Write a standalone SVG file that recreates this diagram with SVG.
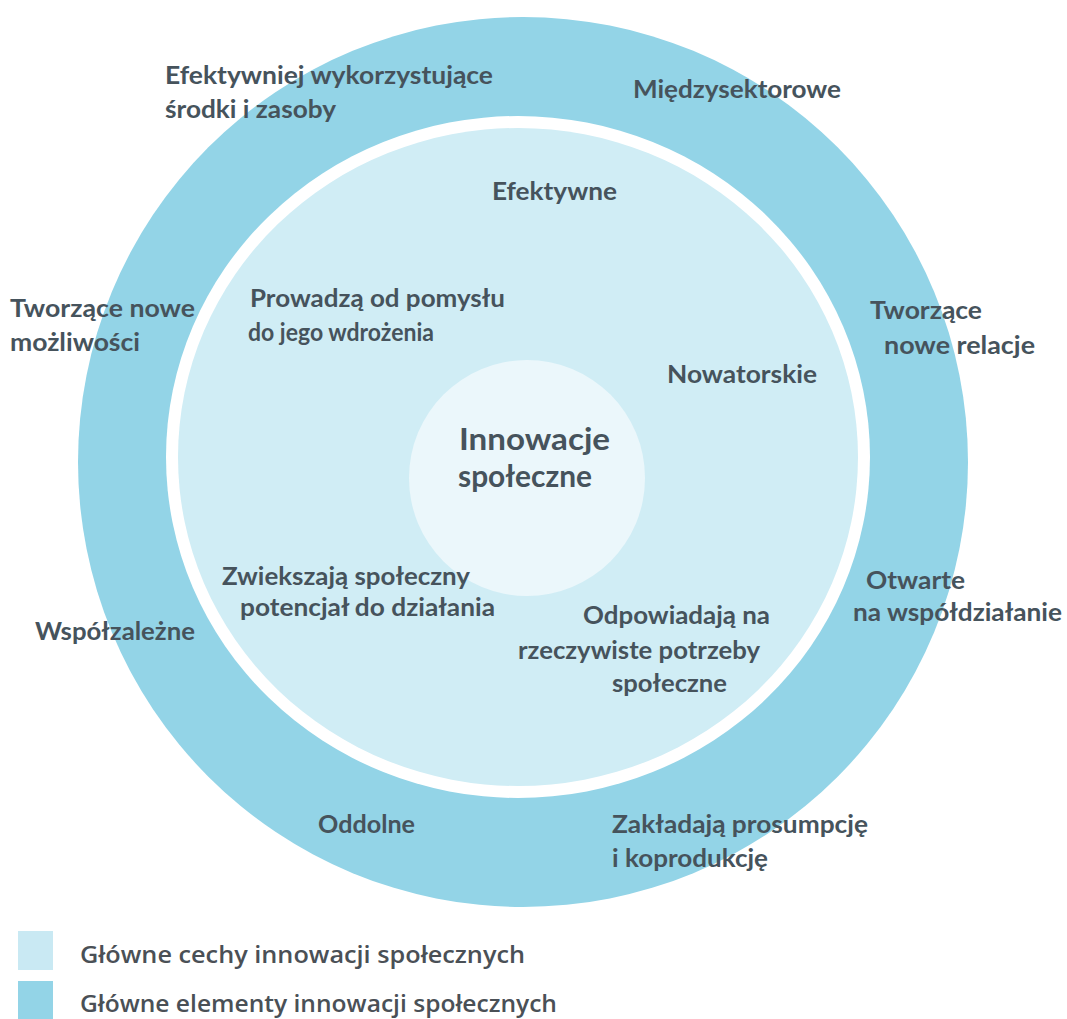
<svg xmlns="http://www.w3.org/2000/svg" width="1067" height="1019" viewBox="0 0 1067 1019">
<style>
.t{font-family:Lato,"Open Sans","Liberation Sans",sans-serif;font-weight:700;font-size:25px;fill:#46535c}
.c{font-size:30px}
.l{font-family:"Open Sans","Liberation Sans",sans-serif;font-weight:600;font-size:23px;fill:#4a5056}
</style>
<rect width="1067" height="1019" fill="#ffffff"/>
<g id="outer-ring"><circle cx="523" cy="462" r="445" fill="#93d4e7"/></g>
<g id="inner-border"><ellipse cx="518" cy="457" rx="352" ry="341" fill="#ffffff"/></g>
<g id="inner-circle"><ellipse cx="518" cy="457" rx="340" ry="329" fill="#d0edf5"/></g>
<g id="center-circle"><circle cx="527" cy="478" r="118" fill="#ebf7fb"/></g>
<g id="connectors"></g>
<g id="label-center"><text class="t c" x="459" y="450" textLength="151" lengthAdjust="spacingAndGlyphs">Innowacje</text><text class="t c" x="458" y="487" textLength="134" lengthAdjust="spacingAndGlyphs">społeczne</text></g>
<g id="n-efektywniej"><text class="t" x="165" y="84" textLength="328" lengthAdjust="spacingAndGlyphs">Efektywniej wykorzystujące</text><text class="t" x="165" y="118" textLength="171" lengthAdjust="spacingAndGlyphs">środki i zasoby</text></g>
<g id="n-miedzysektorowe"><text class="t" x="633" y="98" textLength="208" lengthAdjust="spacingAndGlyphs">Międzysektorowe</text></g>
<g id="n-efektywne"><text class="t" x="492" y="200" textLength="125" lengthAdjust="spacingAndGlyphs">Efektywne</text></g>
<g id="n-prowadza"><text class="t" x="250" y="307" textLength="255" lengthAdjust="spacingAndGlyphs">Prowadzą od pomysłu</text><text class="t" x="248" y="341" textLength="186" lengthAdjust="spacingAndGlyphs">do jego wdrożenia</text></g>
<g id="n-tworzace-mozliwosci"><text class="t" x="10" y="317" textLength="185" lengthAdjust="spacingAndGlyphs">Tworzące nowe</text><text class="t" x="10" y="351" textLength="130" lengthAdjust="spacingAndGlyphs">możliwości</text></g>
<g id="n-tworzace-relacje"><text class="t" x="870" y="319" textLength="112" lengthAdjust="spacingAndGlyphs">Tworzące</text><text class="t" x="884" y="354" textLength="151" lengthAdjust="spacingAndGlyphs">nowe relacje</text></g>
<g id="n-nowatorskie"><text class="t" x="667" y="383" textLength="150" lengthAdjust="spacingAndGlyphs">Nowatorskie</text></g>
<g id="n-zwiekszaja"><text class="t" x="222" y="585" textLength="248" lengthAdjust="spacingAndGlyphs">Zwiekszają społeczny</text><text class="t" x="240" y="616" textLength="255" lengthAdjust="spacingAndGlyphs">potencjał do działania</text></g>
<g id="n-odpowiadaja"><text class="t" x="583" y="624" textLength="187" lengthAdjust="spacingAndGlyphs">Odpowiadają na</text><text class="t" x="518" y="659" textLength="242" lengthAdjust="spacingAndGlyphs">rzeczywiste potrzeby</text><text class="t" x="612" y="692" textLength="115" lengthAdjust="spacingAndGlyphs">społeczne</text></g>
<g id="n-otwarte"><text class="t" x="866" y="589" textLength="99" lengthAdjust="spacingAndGlyphs">Otwarte</text><text class="t" x="853" y="621" textLength="209" lengthAdjust="spacingAndGlyphs">na współdziałanie</text></g>
<g id="n-wspolzalezne"><text class="t" x="35" y="640" textLength="160" lengthAdjust="spacingAndGlyphs">Współzależne</text></g>
<g id="n-oddolne"><text class="t" x="318" y="833" textLength="97" lengthAdjust="spacingAndGlyphs">Oddolne</text></g>
<g id="n-zakladaja"><text class="t" x="612" y="833" textLength="256" lengthAdjust="spacingAndGlyphs">Zakładają prosumpcję</text><text class="t" x="612" y="867" textLength="156" lengthAdjust="spacingAndGlyphs">i koprodukcję</text></g>
<g id="legend">
<rect x="18" y="931" width="35" height="39" fill="#c9e9f3"/>
<rect x="18" y="981" width="35" height="38" fill="#93d4e7"/>
<text class="l" x="80" y="963" textLength="445" lengthAdjust="spacingAndGlyphs">Główne cechy innowacji społecznych</text>
<text class="l" x="80" y="1012" textLength="477" lengthAdjust="spacingAndGlyphs">Główne elementy innowacji społecznych</text>
</g>
</svg>
